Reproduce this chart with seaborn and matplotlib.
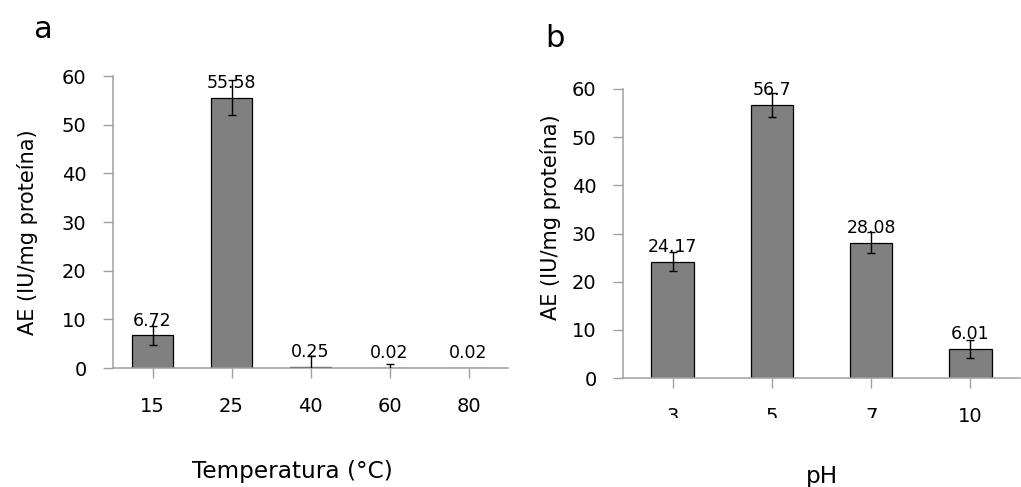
import matplotlib
matplotlib.use("Agg")
import matplotlib.pyplot as plt
from matplotlib.transforms import Bbox
import seaborn as sns
import pandas as pd

# data
temp_labels = ["15", "25", "40", "60", "80"]
temp_values = [6.72, 55.58, 0.25, 0.02, 0.02]
temp_errors = [1.9, 3.5, 2.3, 0.8, 0.0]

ph_labels = ["3", "5", "7", "10"]
ph_values = [24.17, 56.7, 28.08, 6.01]
ph_errors = [1.9, 2.5, 2.2, 1.85]

ylab = "AE (IU/mg proteína)"
axis_grey = "#a0a0a0"

sns.set_theme(style="white")
plt.rcParams["font.family"] = ["DejaVu Sans"]
plt.rcParams["text.color"] = "black"
plt.rcParams["axes.labelcolor"] = "black"

W, H = 1021, 487
fig = plt.figure(figsize=(W / 100, H / 100), dpi=100)
ax_a = fig.add_axes([113 / W, 1 - 368 / H, 395 / W, 292 / H])
ax_b = fig.add_axes([623 / W, 1 - 378 / H, 397 / W, 289 / H])


def bar_panel(ax, labels, values, errors, width):
    df = pd.DataFrame({"cat": labels, "val": values})
    sns.barplot(data=df, x="cat", y="val", ax=ax, color="#808080", saturation=1,
                width=width, edgecolor="black", linewidth=0.9, errorbar=None,
                order=labels)
    xs = [p.get_x() + p.get_width() / 2 for p in ax.patches]
    # only draw whiskers that are visible in the original
    keep = [i for i, e in enumerate(errors) if e > 0]
    ax.errorbar([xs[i] for i in keep], [values[i] for i in keep],
                yerr=[errors[i] for i in keep], fmt="none", ecolor="black",
                elinewidth=1, capsize=3, capthick=1, zorder=3)
    for x, v in zip(xs, values):
        ax.annotate(f"{v:g}", (x, v), xytext=(0, 7), textcoords="offset points",
                    ha="center", va="baseline", fontsize=12.5, zorder=4)
    ax.set_ylim(0, 60)
    ax.set_xlim(-0.5, len(labels) - 0.5)
    ax.set_yticks(range(0, 61, 10))
    sns.despine(ax=ax)
    for s in ("left", "bottom"):
        ax.spines[s].set_color(axis_grey)
        ax.spines[s].set_linewidth(1.1)
    ax.tick_params(axis="both", colors=axis_grey, labelcolor="black",
                   length=7, width=1, labelsize=14, direction="out",
                   bottom=True, left=True)
    ax.tick_params(axis="x", pad=14)
    ax.tick_params(axis="y", pad=12)
    ax.set_ylabel(ylab, fontsize=15)


bar_panel(ax_a, temp_labels, temp_values, temp_errors, 0.52)
ax_a.set_xlabel("Temperatura (°C)", fontsize=16.7, va="top")
ax_a.xaxis.set_label_coords(0.454, -0.315)
ax_a.yaxis.set_label_coords(-0.19, 0.466)

bar_panel(ax_b, ph_labels, ph_values, ph_errors, 0.43)
ax_b.set_xlabel("pH", fontsize=16.7, va="top")
ax_b.xaxis.set_label_coords(0.5, -0.30)
ax_b.yaxis.set_label_coords(-0.156, 0.555)

# the lower part of the first three pH tick labels is cut off in the original
clip = Bbox.from_extents(0, H - 418, W, H)
for lbl in ax_b.get_xticklabels():
    if lbl.get_text() in ("3", "5", "7"):
        lbl.set_clip_on(True)
        lbl.set_clip_box(clip)

fig.text(33 / W, 1 - 38 / H, "a", fontsize=22, va="baseline")
fig.text(545 / W, 1 - 47 / H, "b", fontsize=22, va="baseline")

fig.savefig("out.png", dpi=100)
